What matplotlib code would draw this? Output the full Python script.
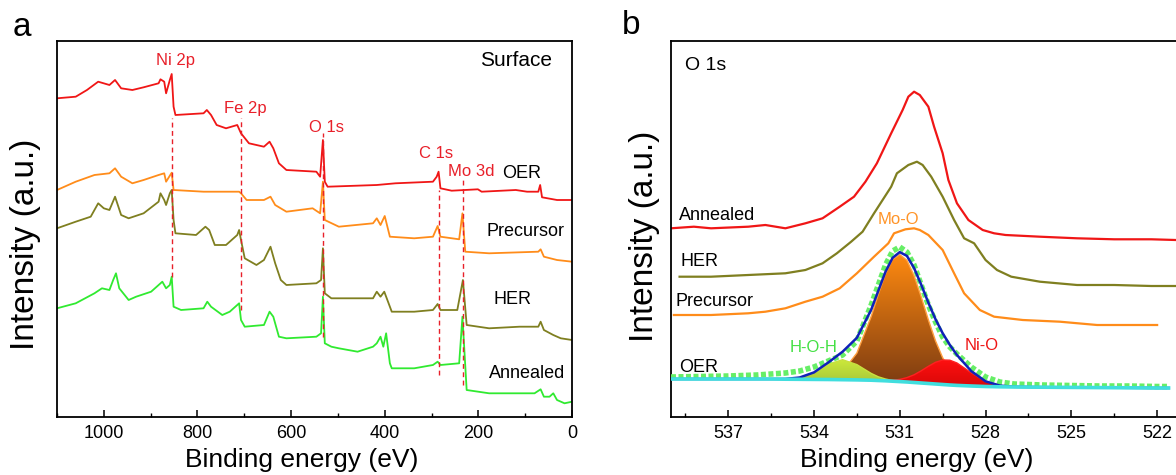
import numpy as np
import matplotlib
matplotlib.use('Agg')
import matplotlib.pyplot as plt
from matplotlib.ticker import MultipleLocator, NullLocator
from matplotlib.colors import LinearSegmentedColormap

plt.rcParams['font.family'] = ['Liberation Sans', 'DejaVu Sans']

# ---------------- Panel a : survey spectra ----------------
oer_a_E = [1100, 1060, 1036, 1012, 988, 976, 963, 939, 915, 883, 879, 871, 867, 859, 855, 851, 847, 787, 780, 771,
           759, 739, 715, 707, 690, 658, 646, 638, 626, 610, 546, 538, 532, 528, 522, 417, 377, 297, 289, 285,
           281, 257, 201, 193, 120, 96, 72, 68, 64, 32, 0]
oer_a_I = [318.7, 320.3, 327, 335.3, 332, 337, 328.7, 327, 329.7, 333.7, 337.7, 335.3, 323.7, 337, 343, 310.3, 302, 303.7, 307, 302,
           292, 288.7, 292, 283.7, 273.7, 270.3, 275.3, 268.7, 253.7, 247, 245.3, 240.3, 277, 235.3, 230.3, 232, 233.7, 235.3, 240.3, 245.3,
           228.7, 226.3, 227.7, 225.3, 227, 225.3, 225.3, 232, 219.7, 217, 217]

pre_a_E = [1100, 1060, 1020, 988, 976, 963, 939, 915, 883, 871, 867, 855, 851, 787, 739, 711, 707, 695, 658, 644,
           634, 610, 554, 538, 532, 528, 498, 425, 417, 409, 400, 389, 337, 297, 287, 281, 241, 234, 228, 177,
           72, 67, 60, 32, 0]
pre_a_I = [227, 235.3, 242, 243.7, 248.7, 240.3, 233.7, 237, 242, 243.7, 235.3, 244.3, 227, 225.3, 225.3, 225.3, 223.7, 217, 217, 220.3,
           212, 205.3, 208.7, 203.7, 235.3, 197, 190.3, 193.7, 198.7, 192, 201, 180.3, 178.7, 180.3, 191, 180.3, 177.7, 203.7, 165.3, 163.7,
           165.3, 167.7, 160.3, 157, 155.3]

her_a_E = [1100, 1060, 1028, 1012, 1000, 988, 976, 963, 947, 915, 883, 879, 871, 867, 859, 855, 851, 847, 803, 783,
           775, 763, 739, 715, 711, 707, 699, 674, 658, 644, 634, 622, 610, 546, 536, 532, 528, 514, 425, 417,
           409, 401, 397, 385, 337, 297, 287, 281, 245, 233, 225, 177, 112, 72, 67, 60, 40, 24, 0]
her_a_I = [188.7, 195.3, 200.3, 213.7, 208.7, 207, 220.3, 202, 198.7, 203.7, 215.3, 223.7, 217, 212, 223.7, 227, 197, 183.7, 182, 190.3,
           187, 172, 172, 182, 187, 177, 158.7, 152, 157, 170.3, 153.7, 137, 132, 133.7, 137, 168.7, 123.7, 118.7, 118.7, 125.3,
           120.3, 125.3, 120.3, 105.3, 105.3, 107, 113, 107, 107, 137, 92, 88.7, 90.3, 90.3, 95.3, 87, 82, 78.7, 77]

ann_a_E = [1100, 1060, 1020, 1004, 988, 980, 974, 967, 947, 931, 899, 875, 867, 859, 855, 851, 835, 787, 779, 771,
           747, 731, 715, 711, 707, 699, 658, 646, 638, 626, 610, 546, 536, 532, 528, 514, 498, 458, 425, 417,
           409, 403, 397, 389, 385, 337, 297, 287, 281, 241, 234, 225, 177, 80, 67, 60, 48, 40, 32, 16, 0]
ann_a_I = [108.7, 113.7, 123.7, 128.7, 127, 137, 143.7, 128.7, 117, 120.3, 125.3, 135.3, 128.7, 132, 140.3, 110.3, 107, 108.7, 115.3, 110.3,
           102, 105.3, 112, 113.7, 97, 90.3, 92, 105.3, 100.3, 80.3, 78.7, 80.3, 83.7, 120.3, 73.7, 70.3, 68.7, 65.3, 70.3, 73.7,
           80.3, 70.3, 83.7, 53.7, 48.7, 48.7, 52, 55.3, 52, 53.7, 100.3, 27, 23.7, 23.7, 27.7, 20.3, 20.3, 23.7, 17, 13.7, 15.3]

peak_names = ['Ni 2p', 'Fe 2p', 'O 1s', 'C 1s', 'Mo 3d']
peak_line_E = [855, 707, 531, 285, 232]
peak_line_lo = [140, 107, 80, 42, 32]
peak_line_hi = [299, 299, 284, 227, 237]
peak_label_E = [847, 698, 525, 291, 216]
peak_label_I = [357, 308, 290, 263, 245]

sample_names_a = ['OER', 'Precursor', 'HER', 'Annealed']
sample_label_E_a = [108, 100, 127, 96]
sample_label_I_a = [244, 185, 117, 44]

# ---------------- Panel b : O 1s ----------------
ann_b_E = [539.0, 538.2, 537.6, 536.3, 535.7, 535.0, 534.3, 533.7, 533.1, 532.6, 532.2, 531.8, 531.3, 530.9, 530.7, 530.5,
           530.3, 530.0, 529.8, 529.5, 529.3, 529.0, 528.6, 528.1, 527.7, 527.3, 526.1, 524.8, 523.5, 522.2, 521.35]
ann_b_I = [188.7, 190.3, 188.7, 190.3, 192, 188.7, 193.7, 198.7, 210.3, 220.3, 235.3, 253.7, 283.7, 307, 320.3, 325.3,
           322, 310.3, 290.3, 263.7, 237, 213.7, 197, 187, 183.7, 182, 180.3, 178.7, 177.7, 177.7, 177]

her_b_E = [538.7, 537.6, 536.3, 535.0, 534.3, 533.7, 533.2, 532.7, 532.3, 531.9, 531.3, 531.1, 530.7, 530.4,
           530.2, 529.9, 529.5, 529.1, 528.75, 528.4, 528.0, 527.6, 527.1, 526.1, 524.8, 523.5, 522.2, 521.35]
her_b_I = [140.3, 140.3, 142, 143.7, 147, 153.7, 163.7, 175.3, 185.3, 203.7, 230.3, 243.7, 252, 255.3,
           252, 240.3, 220.3, 197, 178.7, 173.7, 157, 147, 140.3, 135.3, 132, 132, 131, 131]

pre_b_E = [538.9, 537.6, 536.3, 535.7, 535.0, 534.3, 533.7, 533.1, 532.5, 531.9, 531.4, 531.2, 530.8, 530.5,
           530.3, 530.0, 529.8, 529.5, 529.1, 528.75, 528.2, 527.7, 526.7, 525.4, 524.1, 522.9, 522.0]
pre_b_I = [102, 102, 103.7, 105.3, 108.7, 115.3, 120.3, 128.7, 143.7, 160.3, 173.7, 183.7, 187.7, 188.7,
           187, 182, 176, 167, 143.7, 123.7, 107, 100.3, 97, 95.3, 92, 92, 92]

# OER fit (common energy grid)
oer_b_E = [539, 538, 537, 536, 535.5, 535, 534.5, 534, 533.5, 533, 532.5, 532, 531.75, 531.5, 531.25, 531, 530.75,
           530.5, 530.25, 530, 529.75, 529.5, 529.25, 529, 528.5, 528, 527.5, 527, 526, 525, 524, 523, 522, 521.6]
oer_b_raw = [40, 40.5, 41, 42, 43, 44, 46, 50, 56, 62, 76, 112, 132, 152, 166, 170, 165,
             152, 132, 112, 95, 80, 70, 63, 50, 40, 35, 33, 32, 31.5, 31, 31, 30.5, 30.5]
oer_b_base = [38, 38, 38, 38, 38, 37.8, 37.7, 37.6, 37.5, 37.3, 37.1, 36.8, 36.5, 36.2, 35.8, 35.4, 35,
              34.5, 34, 33.5, 33, 32.5, 32, 31.6, 31, 30.5, 30.2, 30, 29.8, 29.6, 29.4, 29.2, 29, 29]
hoh_b = [0, 0, 0, 0, 0, 0.3, 1.8, 6.8, 15.3, 20, 15.3, 6.8, 3.7, 1.8, 0.7, 0.3, 0,
         0, 0, 0, 0, 0, 0, 0, 0, 0, 0, 0, 0, 0, 0, 0, 0, 0]
moo_b = [0, 0, 0, 0, 0, 0, 0, 0.2, 1.7, 8, 26.8, 63.6, 86.1, 106.8, 121.7, 127, 121.7,
         106.8, 86.1, 63.6, 43.1, 26.8, 15.3, 8, 1.7, 0.3, 0, 0, 0, 0, 0, 0, 0, 0]
nio_b = [0, 0, 0, 0, 0, 0, 0, 0, 0, 0, 0, 0, 0, 0.4, 1.0, 2.2, 4.4,
         7.7, 12.2, 17.2, 21.7, 24.5, 24.8, 22.4, 13.2, 4.9, 1.2, 0.2, 0, 0, 0, 0, 0, 0]

sample_names_b = ['Annealed', 'HER', 'Precursor', 'OER']
sample_label_E_b = [538.73, 538.66, 538.85, 538.73]
sample_label_I_b = [202, 155, 115, 50]
comp_names = ['H-O-H', 'Mo-O', 'Ni-O']
comp_label_E = [534.0, 531.05, 528.15]
comp_label_I = [70, 197, 71]

# ---------------- styling ----------------
RED = '#f01616'
ORANGE = '#ff8c1a'
OLIVE = '#7f7f20'
GREEN = '#30ea30'
LABEL_RED = '#e8202a'

W, H = 1176, 475
fig = plt.figure(figsize=(W / 100, H / 100), dpi=100)

YTOP = 376.3
ax1 = fig.add_axes([57 / W, (H - 417) / H, (572 - 57) / W, (417 - 40.7) / H])
ax2 = fig.add_axes([671 / W, (H - 417) / H, (W - 671) / W, (417 - 40.7) / H])

for ax in (ax1, ax2):
    for s in ax.spines.values():
        s.set_linewidth(1.3)
    ax.tick_params(axis='x', which='major', direction='in', length=5, width=1.1, labelsize=13, pad=6, top=False)
    ax.tick_params(axis='x', which='minor', direction='in', length=3, width=1.0, top=False)
    ax.yaxis.set_major_locator(NullLocator())
    ax.yaxis.set_minor_locator(NullLocator())

# Panel a
lw = 1.3
ax1.plot(oer_a_E, oer_a_I, color=RED, lw=lw)
ax1.plot(pre_a_E, pre_a_I, color=ORANGE, lw=lw)
ax1.plot(her_a_E, her_a_I, color=OLIVE, lw=lw)
ax1.plot(ann_a_E, ann_a_I, color=GREEN, lw=lw)
for e, lo, hi in zip(peak_line_E, peak_line_lo, peak_line_hi):
    ax1.plot([e, e], [lo, hi], color=LABEL_RED, lw=1.0, dashes=(3.5, 2.5), zorder=3)
for name, e, i in zip(peak_names, peak_label_E, peak_label_I):
    ax1.text(e, i, name, color=LABEL_RED, fontsize=12, ha='center', va='center')
for name, e, i in zip(sample_names_a, sample_label_E_a, sample_label_I_a):
    ax1.text(e, i, name, color='black', fontsize=13, ha='center', va='center')
ax1.text(119, 357, 'Surface', fontsize=15, ha='center', va='center')
ax1.set_xlim(1100, 0)
ax1.set_ylim(0, YTOP)
ax1.xaxis.set_major_locator(MultipleLocator(200))
ax1.xaxis.set_minor_locator(MultipleLocator(100))
ax1.set_xlabel('Binding energy (eV)', fontsize=19)
ax1.xaxis.label.set_va('center')
ax1.xaxis.set_label_coords(0.475, -0.114)
ax1.set_ylabel('Intensity (a.u.)', fontsize=24)
ax1.yaxis.label.set_va('center')
ax1.yaxis.set_label_coords(-0.062, 0.46)

# Panel b
ax2.spines['right'].set_visible(False)
ax2.plot(ann_b_E, ann_b_I, color=RED, lw=1.6)
ax2.plot(her_b_E, her_b_I, color=OLIVE, lw=1.6)
ax2.plot(pre_b_E, pre_b_I, color=ORANGE, lw=1.6)


def gradient_fill(ax, x, ylo, yhi, c_top, c_bot, edge, z):
    x = np.asarray(x, float)
    ylo = np.asarray(ylo, float)
    yhi = np.asarray(yhi, float)
    poly = ax.fill_between(x, ylo, yhi, facecolor='none', edgecolor='none', lw=0)
    path = poly.get_paths()[0]
    grad = np.linspace(1, 0, 256).reshape(-1, 1)
    cmap = LinearSegmentedColormap.from_list('g', [c_bot, c_top])
    im = ax.imshow(grad, cmap=cmap, aspect='auto', origin='upper',
                   extent=[x.max(), x.min(), ylo.min(), yhi.max()], zorder=z, interpolation='bilinear')
    im.set_clip_path(path, transform=ax.transData)
    ax.plot(x, yhi, color=edge, lw=1.0, zorder=z + 0.1)


E = np.array(oer_b_E, float)
base = np.array(oer_b_base, float)
hoh = np.array(hoh_b, float)
moo = np.array(moo_b, float)
nio = np.array(nio_b, float)

m = moo > 0
m = m | np.roll(m, 1) | np.roll(m, -1)
gradient_fill(ax2, E[m], base[m], (base + moo)[m], '#ff8a10', '#7a3a12', '#ffa040', 3)
m = hoh > 0
m = m | np.roll(m, 1) | np.roll(m, -1)
gradient_fill(ax2, E[m], base[m], (base + hoh)[m], '#cdea3a', '#a8c83a', '#c8e040', 4)
m = nio > 0
m = m | np.roll(m, 1) | np.roll(m, -1)
gradient_fill(ax2, E[m], base[m], (base + nio)[m], '#ff1010', '#d80808', '#ff2020', 5)

ax2.plot(oer_b_E, oer_b_raw, color='#66ee66', lw=4, ls=(0, (0.9, 0.45)), zorder=6)
ax2.plot(E, base + hoh + moo + nio, color='#1020b8', lw=1.8, zorder=7)
ax2.plot(oer_b_E, oer_b_base, color='#40dede', lw=2.6, zorder=7)

for name, e, i in zip(sample_names_b, sample_label_E_b, sample_label_I_b):
    ax2.text(e, i, name, color='black', fontsize=13, ha='left', va='center')
ax2.text(538.5, 352, 'O 1s', fontsize=14, ha='left', va='center')
comp_colors = ['#44e044', '#ff9428', '#ee1515']
for name, e, i, c in zip(comp_names, comp_label_E, comp_label_I, comp_colors):
    ax2.text(e, i, name, color=c, fontsize=12, ha='center', va='center', zorder=8)

ax2.set_xlim(539.0, 521.34)
ax2.set_ylim(0, YTOP)
ax2.xaxis.set_major_locator(MultipleLocator(3))
ax2.xaxis.set_minor_locator(MultipleLocator(1.5))
ax2.set_xlabel('Binding energy (eV)', fontsize=19)
ax2.xaxis.label.set_va('center')
ax2.xaxis.set_label_coords(0.487, -0.114)
ax2.set_ylabel('Intensity (a.u.)', fontsize=24)
ax2.yaxis.label.set_va('center')
ax2.yaxis.set_label_coords(-0.0515, 0.48)

fig.text(22 / W, 1 - 28 / H, 'a', fontsize=24, ha='center', va='center')
fig.text(631 / W, 1 - 26 / H, 'b', fontsize=24, ha='center', va='center')

fig.savefig('out.png', dpi=100)
